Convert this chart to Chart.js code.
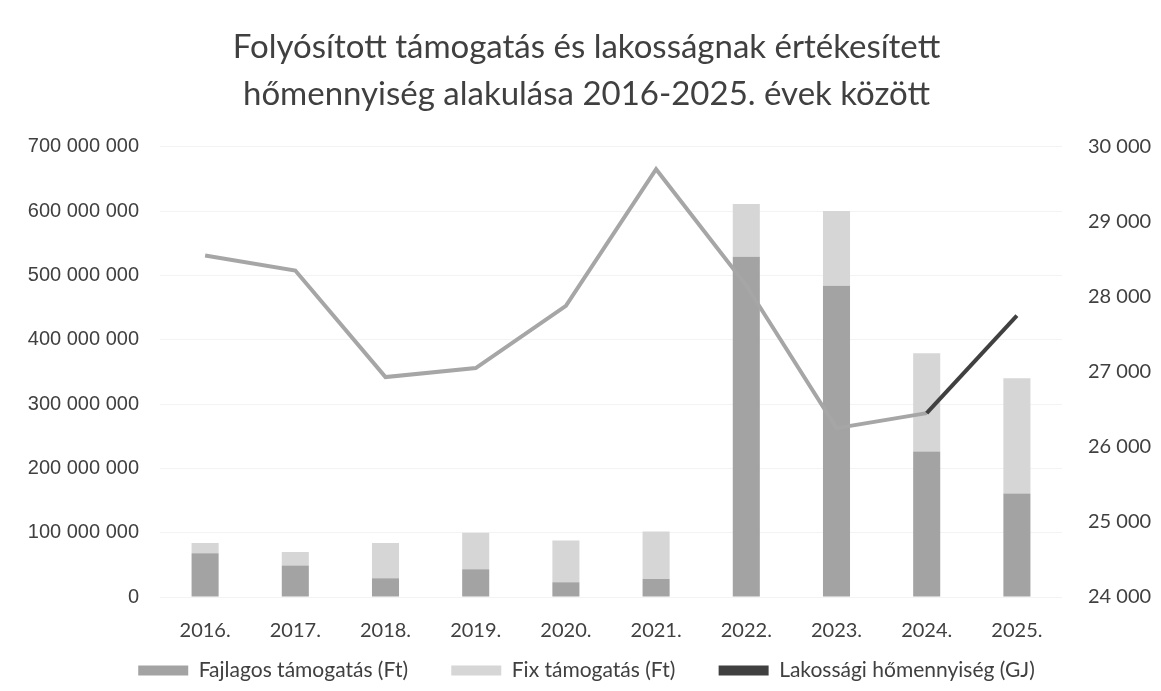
<!DOCTYPE html>
<html>
<head>
<meta charset="utf-8">
<script src="https://cdn.jsdelivr.net/npm/chart.js@4"></script>
<style>
  body { margin: 0; background: #fff; }
  #wrap { width: 1161px; height: 691px; }
</style>
</head>
<body>
<div id="wrap"><canvas id="staticChart"></canvas></div>
<script>
// years on the x axis
var years = ['2016.', '2017.', '2018.', '2019.', '2020.', '2021.', '2022.', '2023.', '2024.', '2025.'];
// Ft values
var fajlagos = [68000000, 49000000, 29000000, 43000000, 23000000, 28000000, 529000000, 484000000, 226000000, 161000000];
var fix = [16000000, 21000000, 55000000, 57000000, 65000000, 74000000, 82000000, 116000000, 153000000, 179000000];
// GJ, right axis
var homennyiseg = [28550, 28350, 26930, 27050, 27880, 29700, 28150, 26250, 26450, 27750];

function huNum(v) {
    return String(Math.round(v)).replace(/\B(?=(\d{3})+(?!\d))/g, ' ');
}

var txt = '#404040';

function chartRenderer() {
    var ctx = document.getElementById('staticChart').getContext('2d');
    new Chart(ctx, {
        type: 'bar',
        data: {
            labels: years,
            datasets: [{
                type: 'line',
                label: 'Lakossági hőmennyiség (GJ)',
                data: homennyiseg,
                yAxisID: 'y2',
                borderColor: '#a6a6a6',
                backgroundColor: '#404040',
                borderWidth: 4,
                pointRadius: 0,
                tension: 0,
                order: 0,
                segment: {
                    // last segment drawn darker
                    borderColor: function (c) { return c.p1DataIndex === years.length - 1 ? '#404040' : undefined; }
                }
            }, {
                label: 'Fajlagos támogatás (Ft)',
                data: fajlagos,
                backgroundColor: '#a3a3a3',
                stack: 's',
                barPercentage: 0.3,
                categoryPercentage: 1,
                order: 1
            }, {
                label: 'Fix támogatás (Ft)',
                data: fix,
                backgroundColor: '#d6d6d6',
                stack: 's',
                barPercentage: 0.3,
                categoryPercentage: 1,
                order: 1
            }]
        },
        options: {
            responsive: true,
            maintainAspectRatio: false,
            animation: false,
            layout: { padding: { left: 12, right: 0, top: 0, bottom: 0 } },
            plugins: {
                title: {
                    display: true,
                    text: ['Folyósított támogatás és lakosságnak értékesített', 'hőmennyiség alakulása 2016-2025. évek között'],
                    color: txt,
                    font: { family: 'Lato', size: 33, weight: 'normal', lineHeight: 1.45 },
                    padding: { top: 23, bottom: 28 }
                },
                legend: {
                    position: 'bottom',
                    labels: {
                        color: txt,
                        font: { family: 'Lato', size: 21 },
                        boxWidth: 50,
                        boxHeight: 10,
                        padding: 17,
                        generateLabels: function (chart) {
                            var order = [1, 2, 0];
                            return order.map(function (i, k) {
                                var ds = chart.data.datasets[i];
                                return {
                                    // extra space after the first two items, like the original
                                    text: ds.label + (k < 2 ? '\u2003\u2002' : ''),
                                    fillStyle: i === 0 ? '#404040' : ds.backgroundColor,
                                    strokeStyle: 'rgba(0,0,0,0)',
                                    lineWidth: 0,
                                    fontColor: txt,
                                    datasetIndex: i
                                };
                            });
                        }
                    }
                },
                tooltip: { enabled: false }
            },
            scales: {
                x: {
                    stacked: true,
                    grid: { display: false },
                    border: { display: false },
                    ticks: { color: txt, font: { family: 'Lato', size: 20 }, padding: 14 },
                    afterFit: function (s) { s.height = 46; }
                },
                y: {
                    stacked: true,
                    min: 0,
                    max: 700000000,
                    ticks: {
                        stepSize: 100000000,
                        color: txt,
                        font: { family: 'Liberation Sans', size: 20 },
                        padding: 21,
                        callback: function (v) { return huNum(v); }
                    },
                    grid: { color: '#f3f3f3', drawTicks: false },
                    border: { display: false },
                    afterFit: function (s) { s.width = 148; }
                },
                y2: {
                    position: 'right',
                    min: 24000,
                    max: 30000,
                    ticks: {
                        stepSize: 1000,
                        color: txt,
                        font: { family: 'Lato', size: 20 },
                        padding: 26,
                        callback: function (v) { return huNum(v); }
                    },
                    grid: { display: false, drawTicks: false },
                    border: { display: false },
                    afterFit: function (s) { s.width = 99; }
                }
            }
        }
    });
}
chartRenderer();
</script>
</body>
</html>
